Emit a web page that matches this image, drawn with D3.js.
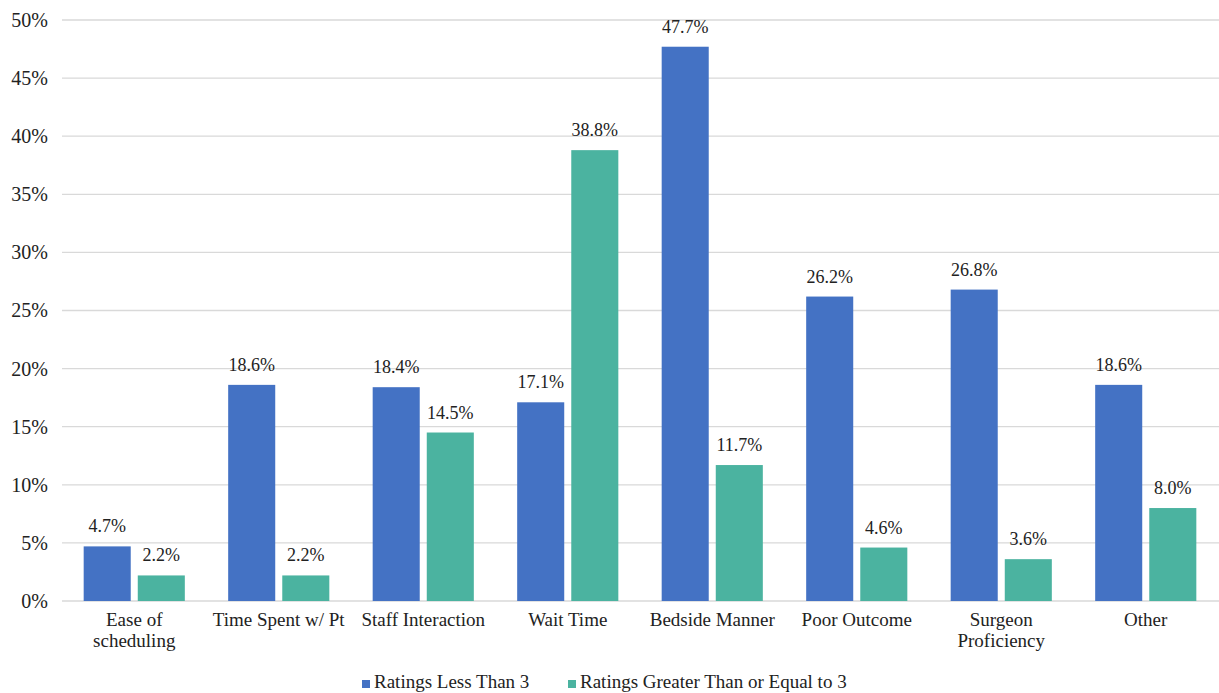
<!DOCTYPE html>
<html><head><meta charset="utf-8">
<script src="https://cdn.jsdelivr.net/npm/d3@7"></script>
<style>body{margin:0;background:#fff}svg{display:block}</style>
</head><body>
<svg id="c" width="1219" height="693"></svg>
<script>
const categories = ["Ease of\nscheduling","Time Spent w/ Pt","Staff Interaction","Wait Time","Bedside Manner","Poor Outcome","Surgeon\nProficiency","Other"];
const seriesNames = ["Ratings Less Than 3","Ratings Greater Than or Equal to 3"];
const lessThan3 = [4.7,18.6,18.4,17.1,47.7,26.2,26.8,18.6];
const greaterEq3 = [2.2,2.2,14.5,38.8,11.7,4.6,3.6,8.0];
const yTicks = [0,5,10,15,20,25,30,35,40,45,50];
const colors = ["#4472C4","#4BB3A0"];
const FONT = "'Liberation Serif', Tinos, 'Times New Roman', 'DejaVu Serif', serif";

const svg = d3.select("#c").style("font-family", FONT);
const L = 62, R = 1218, T = 20, B = 601;
const x0 = d3.scaleBand().domain(categories).range([L, R]).padding(0);
const bw = x0.bandwidth();
const x1 = d3.scaleBand().domain([0,1]).range([bw*0.15, bw*0.85]).paddingInner(0.13).paddingOuter(0);
const y = d3.scaleLinear().domain([0,50]).range([B, T]);

svg.append("g").selectAll("line").data(yTicks).join("line")
  .attr("x1", L).attr("x2", 1219).attr("y1", d=>y(d)).attr("y2", d=>y(d))
  .attr("stroke", "#d9d9d9").attr("stroke-width", 1.3);

const yAxis = d3.axisLeft(y).tickValues(yTicks).tickFormat(d=>d+"%").tickSize(0).tickPadding(14);
const ga = svg.append("g").attr("transform", `translate(${L},0)`).call(yAxis);
ga.attr("font-family", null).attr("font-size", null);
ga.select(".domain").remove();
ga.selectAll("text").style("font-family", FONT).attr("font-size", 20).attr("fill","#222");

const series = [lessThan3, greaterEq3];
const g = svg.append("g");
series.forEach((vals, si) => {
  g.selectAll(".b"+si).data(vals).join("rect")
    .attr("x", (d,i)=>x0(categories[i]) + x1(si))
    .attr("width", x1.bandwidth())
    .attr("y", d=>y(d)).attr("height", d=>B - y(d))
    .attr("fill", colors[si]);
  g.selectAll(".t"+si).data(vals).join("text")
    .attr("x", (d,i)=>x0(categories[i]) + x1(si) + x1.bandwidth()/2)
    .attr("y", d=>y(d) - 14)
    .attr("text-anchor","middle").attr("font-size", 18).attr("fill","#222")
    .style("font-family", FONT)
    .text(d=>d.toFixed(1)+"%");
});

categories.forEach(c => {
  const lines = c.split("\n");
  const t = svg.append("text").attr("x", x0(c)+bw/2).attr("y", 626).attr("text-anchor","middle")
    .attr("font-size", 19).attr("fill","#222").style("font-family", FONT);
  lines.forEach((ln, i) => t.append("tspan").attr("x", x0(c)+bw/2).attr("dy", i===0?0:21).text(ln));
});

const legX = [362, 568];
seriesNames.forEach((n, i) => {
  svg.append("rect").attr("x", legX[i]).attr("y", 680).attr("width", 8).attr("height", 8).attr("fill", colors[i]);
  svg.append("text").attr("x", legX[i]+12).attr("y", 688).attr("font-size", 19).attr("fill","#222")
    .style("font-family", FONT).text(n);
});
</script>
</body></html>
